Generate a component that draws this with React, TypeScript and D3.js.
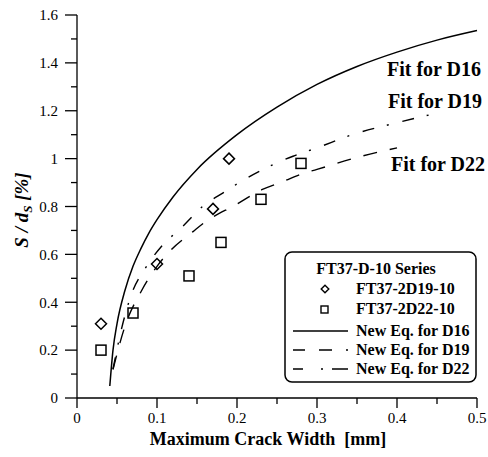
import React from "react";
import * as d3 from "d3";

// test points
const d19X = [0.03, 0.1, 0.17, 0.19];
const d19Y = [0.31, 0.56, 0.79, 1.0];
const d22X = [0.03, 0.07, 0.14, 0.18, 0.23, 0.28];
const d22Y = [0.2, 0.355, 0.51, 0.65, 0.83, 0.98];

// fitted curves
const fit16X = [0.041, 0.045, 0.05, 0.06, 0.07, 0.08, 0.09, 0.1, 0.12, 0.15, 0.2, 0.25, 0.3, 0.35, 0.4, 0.45, 0.5];
const fit16Y = [0.05, 0.2, 0.31, 0.45, 0.55, 0.625, 0.69, 0.745, 0.84, 0.955, 1.1, 1.215, 1.31, 1.385, 1.445, 1.495, 1.535];
const fit19X = [0.045, 0.055, 0.07, 0.085, 0.106, 0.13, 0.157, 0.184, 0.213, 0.245, 0.27, 0.3, 0.344, 0.4, 0.45];
const fit19Y = [0.12, 0.28, 0.45, 0.54, 0.635, 0.71, 0.8, 0.86, 0.92, 0.975, 1.01, 1.045, 1.1, 1.15, 1.19];
const fit22X = [0.045, 0.06, 0.081, 0.1, 0.118, 0.145, 0.158, 0.2, 0.231, 0.258, 0.28, 0.3, 0.35, 0.4];
const fit22Y = [0.12, 0.3, 0.45, 0.55, 0.62, 0.695, 0.73, 0.81, 0.87, 0.905, 0.935, 0.955, 1.005, 1.045];

const xTicks = [0, 0.1, 0.2, 0.3, 0.4, 0.5];
const yTicks = [0, 0.2, 0.4, 0.6, 0.8, 1, 1.2, 1.4, 1.6];

const serif = { fontFamily: '"Liberation Serif"' };

export default function App() {
  const x = d3.scaleLinear().domain([0, 0.5]).range([77, 477]);
  const y = d3.scaleLinear().domain([0, 1.6]).range([398, 15]);

  const line = d3
    .line<[number, number]>()
    .x((d) => x(d[0]))
    .y((d) => y(d[1]))
    .curve(d3.curveMonotoneX);

  const zip = (xs: number[], ys: number[]) => xs.map((v, i) => [v, ys[i]] as [number, number]);

  const xMinor = d3.range(0, 0.5001, 0.05).filter((v) => Math.abs(v * 10 - Math.round(v * 10)) > 0.01);
  const yMinor = d3.range(0.1, 1.6, 0.2);

  const diamond = (cx: number, cy: number, r: number) =>
    `M${cx},${cy - r}L${cx + r},${cy}L${cx},${cy + r}L${cx - r},${cy}Z`;

  const lg = { x: 285, y: 252, w: 191, h: 130 };

  return (
    <div style={{ position: "absolute", left: 0, top: 0 }}>
      <svg width={488} height={457} style={{ display: "block", background: "#fff" }}>
        {/* axes */}
        <g stroke="#000" strokeWidth={1.3} fill="none">
          <line x1={x(0)} x2={x(0)} y1={y(0)} y2={y(1.6)} />
          <line x1={x(0)} x2={x(0.5)} y1={y(0)} y2={y(0)} />
          {yTicks.map((t) => (
            <line key={"ym" + t} x1={x(0) - 12} x2={x(0)} y1={y(t)} y2={y(t)} />
          ))}
          {yMinor.map((t) => (
            <line key={"yn" + t} x1={x(0) - 6} x2={x(0)} y1={y(t)} y2={y(t)} />
          ))}
          {xTicks.map((t) => (
            <line key={"xm" + t} x1={x(t)} x2={x(t)} y1={y(0)} y2={y(0) + 10} />
          ))}
          {xMinor.map((t) => (
            <line key={"xn" + t} x1={x(t)} x2={x(t)} y1={y(0)} y2={y(0) + 6} />
          ))}
        </g>
        {yTicks.map((t) => (
          <text key={"yl" + t} x={58} y={y(t)} dy="0.35em" textAnchor="end" fontSize={15} style={serif}>
            {String(t)}
          </text>
        ))}
        {xTicks.map((t) => (
          <text key={"xl" + t} x={x(t)} y={423} textAnchor="middle" fontSize={15} style={serif}>
            {String(t)}
          </text>
        ))}
        <text x={268} y={445} textAnchor="middle" style={serif} fontSize={18} fontWeight="bold">
          Maximum Crack Width{"\u00a0\u00a0"}[mm]
        </text>
        <text
          transform="translate(28,210) rotate(-90)"
          textAnchor="middle"
          style={serif}
          fontSize={19}
          fontWeight="bold"
          fontStyle="italic"
        >
          S / d<tspan fontSize={13} dy={4}>S</tspan>
          <tspan dy={-4}>{"\u00a0"}[%]</tspan>
        </text>

        {/* fits */}
        <g fill="none" stroke="#000">
          <path d={line(zip(fit16X, fit16Y)) || ""} strokeWidth={1.5} />
          <path d={line(zip(fit19X, fit19Y)) || ""} strokeWidth={1.4} strokeDasharray="12,13,2,14" />
          <path d={line(zip(fit22X, fit22Y)) || ""} strokeWidth={1.4} strokeDasharray="14,13" />
        </g>

        {/* data */}
        <g fill="none" stroke="#000" strokeWidth={1.5}>
          {d19X.map((v, i) => (
            <path key={"d" + i} d={diamond(x(v), y(d19Y[i]), 5.5)} />
          ))}
          {d22X.map((v, i) => (
            <rect key={"s" + i} x={x(v) - 5} y={y(d22Y[i]) - 5} width={10} height={10} />
          ))}
        </g>

        <text x={387} y={76} style={serif} fontSize={20} fontWeight="bold">Fit for D16</text>
        <text x={388} y={108} style={serif} fontSize={20} fontWeight="bold">Fit for D19</text>
        <text x={391} y={171} style={serif} fontSize={20} fontWeight="bold">Fit for D22</text>

        {/* legend */}
        <rect x={lg.x} y={lg.y} width={lg.w} height={lg.h} rx={7} fill="#fff" stroke="#000" strokeWidth={1.5} />
        <text x={376} y={274} textAnchor="middle" style={serif} fontSize={16} fontWeight="bold">FT37-D-10 Series</text>
        <text x={356} y={294} style={serif} fontSize={16} fontWeight="bold">FT37-2D19-10</text>
        <text x={356} y={314} style={serif} fontSize={16} fontWeight="bold">FT37-2D22-10</text>
        <text x={356} y={336} style={serif} fontSize={16} fontWeight="bold">New Eq. for D16</text>
        <text x={356} y={355} style={serif} fontSize={16} fontWeight="bold">New Eq. for D19</text>
        <text x={356} y={374} style={serif} fontSize={16} fontWeight="bold">New Eq. for D22</text>
        <g fill="none" stroke="#000" strokeWidth={1.4}>
          <path d={diamond(325, 289, 3.8)} />
          <rect x={321} y={306} width={7} height={7} />
          <line x1={293} x2={348} y1={331} y2={331} />
          <line x1={293} x2={348} y1={350} y2={350} strokeDasharray="12,14,13,14,2" />
          <line x1={293} x2={348} y1={369} y2={369} strokeDasharray="10,18,2,9,16" />
        </g>
      </svg>
    </div>
  );
}
